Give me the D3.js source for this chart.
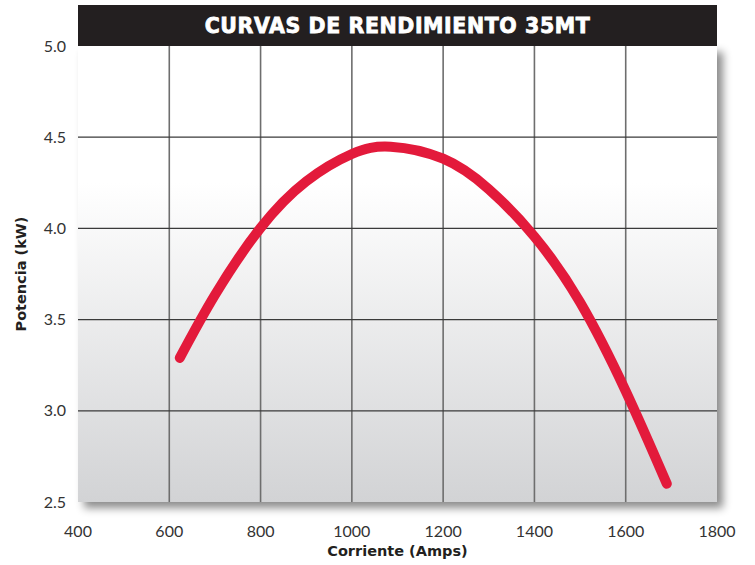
<!DOCTYPE html>
<html>
<head>
<meta charset="utf-8">
<script src="https://cdn.jsdelivr.net/npm/d3@7"></script>
<style>
  body { margin: 0; background: #fff; }
  svg { display: block; font-family: "Lato", "DejaVu Sans", sans-serif; }
</style>
</head>
<body>
<div class="svgContainer"></div>
<script>
// values
const corriente = [623, 700, 800, 900, 1000, 1085, 1200, 1300, 1400, 1500, 1600, 1690];
const potencia  = [3.29, 3.635, 4.003, 4.258, 4.408, 4.448, 4.382, 4.215, 3.955, 3.595, 3.108, 2.60];
const xTicks = [400, 600, 800, 1000, 1200, 1400, 1600, 1800];
const yTicks = [2.5, 3.0, 3.5, 4.0, 4.5, 5.0];
const title = 'CURVAS DE RENDIMIENTO 35MT';

let width = 755,
    height = 565,
    margin = { top: 46, right: 38, bottom: 63, left: 78 };

let svg = d3.select('.svgContainer')
    .append('svg')
    .attr('width', width)
    .attr('height', height);

let defs = svg.append('defs');

let grad = defs.append('linearGradient')
    .attr('id', 'bg')
    .attr('x1', 0).attr('y1', 0)
    .attr('x2', 0).attr('y2', 1);
grad.append('stop').attr('offset', '0').attr('stop-color', '#ffffff');
grad.append('stop').attr('offset', '0.3').attr('stop-color', '#ffffff');
grad.append('stop').attr('offset', '1').attr('stop-color', '#d2d3d5');

defs.append('filter')
    .attr('id', 'shadow')
    .attr('x', '-5%').attr('y', '-5%')
    .attr('width', '115%').attr('height', '115%')
    .append('feDropShadow')
    .attr('dx', 6).attr('dy', 6)
    .attr('stdDeviation', 4)
    .attr('flood-color', '#000')
    .attr('flood-opacity', 0.45);

const x = d3.scaleLinear()
    .domain([400, 1800])
    .range([margin.left, width - margin.right]);

const y = d3.scaleLinear()
    .domain([2.5, 5.0])
    .range([height - margin.bottom, margin.top]);

// plot background with shadow
svg.append('rect')
    .attr('x', x(400))
    .attr('y', y(5.0))
    .attr('width', x(1800) - x(400))
    .attr('height', y(2.5) - y(5.0))
    .attr('fill', 'url(#bg)')
    .style('filter', 'url(#shadow)');

// grid
svg.append('g')
    .selectAll('line')
    .data(xTicks.slice(1, -1))
    .enter().append('line')
    .attr('x1', d => x(d)).attr('x2', d => x(d))
    .attr('y1', y(5.0)).attr('y2', y(2.5))
    .attr('stroke', '#6e6e6e')
    .attr('stroke-width', 1.6);

svg.append('g')
    .selectAll('line')
    .data(yTicks.slice(1, -1))
    .enter().append('line')
    .attr('x1', x(400)).attr('x2', x(1800))
    .attr('y1', d => y(d)).attr('y2', d => y(d))
    .attr('stroke', '#3a3a3a')
    .attr('stroke-width', 1.2);

// title bar
svg.append('rect')
    .attr('x', x(400))
    .attr('y', 5)
    .attr('width', x(1800) - x(400))
    .attr('height', y(5.0) - 5)
    .attr('fill', '#231f20');

svg.append('text')
    .attr('x', (x(400) + x(1800)) / 2)
    .attr('y', 33)
    .attr('text-anchor', 'middle')
    .attr('fill', '#fff')
    .attr('stroke', '#fff')
    .attr('stroke-width', 0.8)
    .style('font-family', '"DejaVu Sans", sans-serif')
    .style('font-weight', 'bold')
    .style('font-size', '20.5px')
    .style('letter-spacing', '0.6px')
    .text(title);

// curve
const line = d3.line()
    .x((d, i) => x(corriente[i]))
    .y(d => y(d))
    .curve(d3.curveNatural);

svg.append('path')
    .datum(potencia)
    .attr('d', line)
    .attr('fill', 'none')
    .attr('stroke', '#e31a3b')
    .attr('stroke-width', 10)
    .attr('stroke-linecap', 'round')
    .attr('stroke-linejoin', 'round');

// axes labels
svg.append('g')
    .selectAll('text')
    .data(yTicks)
    .enter().append('text')
    .attr('x', 66)
    .attr('y', d => y(d))
    .attr('dy', '0.35em')
    .attr('text-anchor', 'end')
    .attr('fill', '#333')
    .style('font-size', '16px')
    .text(d => d.toFixed(1));

svg.append('g')
    .selectAll('text')
    .data(xTicks)
    .enter().append('text')
    .attr('x', d => x(d))
    .attr('y', 531)
    .attr('dy', '0.35em')
    .attr('text-anchor', 'middle')
    .attr('fill', '#333')
    .style('font-size', '16px')
    .text(d => d);

svg.append('text')
    .attr('x', (x(400) + x(1800)) / 2)
    .attr('y', 556)
    .attr('text-anchor', 'middle')
    .attr('fill', '#231f20')
    .style('font-family', '"DejaVu Sans", sans-serif')
    .style('font-weight', 'bold')
    .style('font-size', '14.5px')
    .text('Corriente (Amps)');

svg.append('text')
    .attr('transform', 'translate(26,' + ((y(2.5) + y(5.0)) / 2) + ') rotate(-90)')
    .attr('text-anchor', 'middle')
    .attr('fill', '#231f20')
    .style('font-family', '"DejaVu Sans", sans-serif')
    .style('font-weight', 'bold')
    .style('font-size', '14.5px')
    .text('Potencia (kW)');
</script>
</body>
</html>
